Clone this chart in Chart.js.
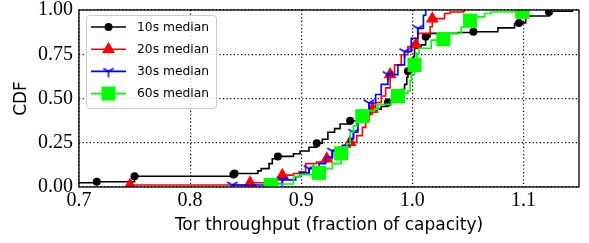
<!DOCTYPE html>
<html lang="en">

<head>
    <meta charset="UTF-8">
    <script src="https://cdn.jsdelivr.net/npm/chart.js@4.4.0/dist/chart.umd.min.js"></script>
    <title>Tor throughput CDF</title>
    <style>
        body { margin: 0; background: #fff; }
    </style>
</head>

<body>
    <canvas id="cdf" width="589" height="243"></canvas>

    <script>
        // throughput (fraction of capacity) where each CDF step happens, and the CDF after the step
        const tput10 = [0.68, 0.716, 0.750, 0.839, 0.840, 0.861, 0.864, 0.871, 0.874, 0.879, 0.893, 0.899, 0.907, 0.914, 0.919, 0.924, 0.930, 0.935, 0.944, 0.950, 0.956, 0.962, 0.968, 0.972, 0.978, 0.983, 0.987, 0.990, 0.993, 0.995, 0.996, 0.998, 1.001, 1.002, 1.008, 1.012, 1.016, 1.041, 1.055, 1.077, 1.092, 1.096, 1.102, 1.123, 1.126, 1.144];
        const cdf10 = [0.024, 0.03, 0.061, 0.071, 0.076, 0.091, 0.104, 0.132, 0.160, 0.173, 0.188, 0.203, 0.225, 0.247, 0.27, 0.309, 0.33, 0.356, 0.374, 0.39, 0.41, 0.425, 0.44, 0.455, 0.477, 0.50, 0.523, 0.55, 0.58, 0.62, 0.654, 0.69, 0.737, 0.784, 0.803, 0.849, 0.868, 0.873, 0.877, 0.899, 0.923, 0.927, 0.966, 0.989, 0.993, 1.0];
        const mark10 = [1, 2, 3, 4, 9, 13, 18, 24, 30, 35, 38, 41, 43];

        const tput20 = [0.746, 0.854, 0.878, 0.883, 0.893, 0.898, 0.904, 0.914, 0.923, 0.928, 0.934, 0.944, 0.950, 0.955, 0.958, 0.961, 0.964, 0.967, 0.972, 0.976, 0.980, 0.984, 0.990, 0.996, 1.003, 1.005, 1.016, 1.018, 1.029, 1.034, 1.046, 1.047];
        const cdf20 = [0.011, 0.024, 0.04, 0.067, 0.076, 0.086, 0.132, 0.141, 0.160, 0.207, 0.225, 0.253, 0.29, 0.337, 0.37, 0.41, 0.44, 0.477, 0.514, 0.56, 0.635, 0.69, 0.747, 0.793, 0.803, 0.868, 0.905, 0.951, 0.98, 0.989, 0.993, 1.0];
        const mark20 = [0, 1, 3, 8, 11, 16, 20, 24, 27];

        const tput30 = [0.838, 0.877, 0.883, 0.895, 0.899, 0.907, 0.916, 0.922, 0.928, 0.937, 0.943, 0.947, 0.951, 0.955, 0.961, 0.967, 0.972, 0.978, 0.987, 0.993, 0.999, 1.005, 1.010, 1.012];
        const cdf30 = [0.011, 0.02, 0.04, 0.058, 0.08, 0.104, 0.132, 0.169, 0.203, 0.235, 0.272, 0.309, 0.37, 0.43, 0.475, 0.523, 0.58, 0.635, 0.69, 0.765, 0.84, 0.896, 0.97, 1.0];
        const mark30 = [0, 2, 5, 8, 11, 14, 17, 19, 21];

        const tput60 = [0.8725, 0.878, 0.893, 0.899, 0.916, 0.920, 0.928, 0.936, 0.941, 0.944, 0.947, 0.950, 0.955, 0.958, 0.966, 0.969, 0.981, 0.987, 0.993, 0.996, 0.998, 0.999, 1.002, 1.004, 1.006, 1.017, 1.028, 1.030, 1.044, 1.052, 1.056, 1.065, 1.071, 1.099, 1.105];
        const cdf60 = [0.011, 0.017, 0.06, 0.07, 0.08, 0.104, 0.132, 0.19, 0.244, 0.309, 0.346, 0.384, 0.40, 0.43, 0.44, 0.467, 0.486, 0.514, 0.53, 0.542, 0.6, 0.635, 0.69, 0.756, 0.784, 0.83, 0.835, 0.868, 0.905, 0.94, 0.961, 0.98, 0.989, 0.99, 1.0];
        const mark60 = [0, 4, 7, 12, 17, 22, 26, 29, 33];

        const seriesNames = ['10s median', '20s median', '30s median', '60s median'];
        const xTicks = [0.7, 0.8, 0.9, 1.0, 1.1];
        const yTicks = [0, 0.25, 0.5, 0.75, 1.0];

        // matplotlib style "1" marker (tri_down)
        function triDown(color) {
            const c = document.createElement('canvas');
            c.width = 14;
            c.height = 14;
            const g = c.getContext('2d');
            g.strokeStyle = color;
            g.lineWidth = 1.5;
            g.beginPath();
            g.moveTo(7, 7); g.lineTo(7, 13);
            g.moveTo(7, 7); g.lineTo(1.8, 4);
            g.moveTo(7, 7); g.lineTo(12.2, 4);
            g.stroke();
            return c;
        }
        const triImg = triDown('#0000ff');

        function makeSet(label, xs, ys, marks, color, style, radius, order) {
            return {
                label: label,
                data: xs.map((x, i) => ({ x: x, y: ys[i] })),
                borderColor: color,
                backgroundColor: color,
                borderWidth: 1.6,
                stepped: true,
                pointStyle: style,
                pointRadius: ctx => marks.includes(ctx.dataIndex) ? radius : 0,
                pointBorderWidth: 0,
                clip: 0,
                order: order
            };
        }

        const frame = {
            id: 'frame',
            afterDatasetsDraw(chart) {
                const a = chart.chartArea;
                const c = chart.ctx;
                c.save();
                c.strokeStyle = '#000';
                c.lineWidth = 1.3;
                c.strokeRect(a.left, a.top, a.right - a.left, a.bottom - a.top);
                c.restore();
            }
        };

        const legendBox = {
            id: 'legendBox',
            afterDraw(chart) {
                const c = chart.ctx;
                const colors = ['#000000', '#ff0000', '#0000ff', '#00ff00'];
                c.save();
                c.fillStyle = 'rgba(255,255,255,0.85)';
                c.strokeStyle = '#cccccc';
                c.lineWidth = 1;
                c.beginPath();
                c.roundRect(86.5, 15.5, 130, 93, 3);
                c.fill();
                c.stroke();
                for (let i = 0; i < 4; i++) {
                    const y = 27 + i * 22.2;
                    c.strokeStyle = colors[i];
                    c.fillStyle = colors[i];
                    c.lineWidth = 1.6;
                    c.beginPath();
                    c.moveTo(91, y);
                    c.lineTo(126, y);
                    c.stroke();
                    c.beginPath();
                    if (i === 0) {
                        c.arc(108.5, y, 4, 0, Math.PI * 2);
                        c.fill();
                    } else if (i === 1) {
                        c.moveTo(108.5, y - 7.5);
                        c.lineTo(115, y + 3.8);
                        c.lineTo(102, y + 3.8);
                        c.closePath();
                        c.fill();
                    } else if (i === 2) {
                        c.drawImage(triImg, 101.5, y - 7);
                    } else {
                        c.rect(101.5, y - 7, 14, 14);
                        c.fill();
                    }
                    c.fillStyle = '#000';
                    c.font = '12.3px "DejaVu Sans"';
                    c.textBaseline = 'middle';
                    c.fillText(seriesNames[i], 137, y + 0.5);
                }
                c.restore();
            }
        };

        const ctx = document.getElementById('cdf').getContext('2d');
        const myChart = new Chart(ctx, {
            type: 'line',
            data: {
                datasets: [
                    makeSet(seriesNames[0], tput10, cdf10, mark10, '#000000', 'circle', 4, 4),
                    makeSet(seriesNames[1], tput20, cdf20, mark20, '#ff0000', 'triangle', 7.5, 3),
                    makeSet(seriesNames[2], tput30, cdf30, mark30, '#0000ff', triImg, 7, 2),
                    makeSet(seriesNames[3], tput60, cdf60, mark60, '#00ff00', 'rect', 10, 1)
                ]
            },
            options: {
                responsive: false,
                animation: false,
                layout: { padding: { top: 6, right: 6, left: 0, bottom: 0 } },
                plugins: { legend: { display: false }, tooltip: { enabled: false } },
                scales: {
                    x: {
                        type: 'linear',
                        min: 0.7,
                        max: 1.15,
                        afterBuildTicks: s => { s.ticks = xTicks.map(v => ({ value: v })); },
                        afterFit: s => { s.height = 56; s.paddingLeft = 0; s.paddingRight = 0; },
                        ticks: {
                            callback: v => v.toFixed(1),
                            font: { family: 'Liberation Serif', size: 20 },
                            color: '#000',
                            padding: 2,
                            maxRotation: 0
                        },
                        grid: { color: '#000', lineWidth: 1.2, drawTicks: false },
                        border: { display: false, dash: [1.2, 2.4] },
                        title: {
                            display: true,
                            text: 'Tor throughput (fraction of capacity)',
                            font: { family: 'DejaVu Sans', size: 17 },
                            color: '#000',
                            padding: { top: 0, bottom: 7 }
                        }
                    },
                    y: {
                        min: 0,
                        max: 1,
                        afterBuildTicks: s => { s.ticks = yTicks.map(v => ({ value: v })); },
                        afterFit: s => { s.width = 79; s.paddingTop = 0; s.paddingBottom = 0; },
                        ticks: {
                            callback: v => v.toFixed(2),
                            font: { family: 'Liberation Serif', size: 20 },
                            color: '#000',
                            padding: 6
                        },
                        grid: { color: '#000', lineWidth: 1.2, drawTicks: false },
                        border: { display: false, dash: [1.2, 2.4] },
                        title: {
                            display: true,
                            text: 'CDF',
                            font: { family: 'DejaVu Sans', size: 17 },
                            color: '#000',
                            padding: { top: 11, bottom: 0 }
                        }
                    }
                }
            },
            plugins: [frame, legendBox]
        });
    </script>
</body>

</html>
